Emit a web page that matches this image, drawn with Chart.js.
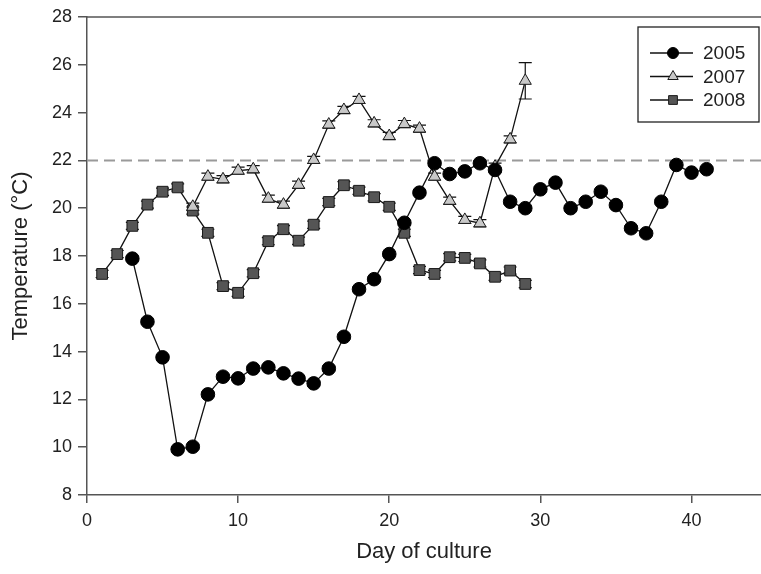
<!DOCTYPE html>
<html><head><meta charset="utf-8">
<script src="https://cdn.jsdelivr.net/npm/chart.js@4.4.0/dist/chart.umd.min.js"></script>
<style>html,body{margin:0;padding:0;background:#fff;overflow:hidden}canvas{display:block}</style>
</head><body><canvas id="c" width="761" height="574"></canvas>
<script>
const seriesLabels = ['2005', '2007', '2008'];
const days2005 = [3,4,5,6,7,8,9,10,11,12,13,14,15,16,17,18,19,20,21,22,23,24,25,26,27,28,29,30,31,32,33,34,35,36,37,38,39,40,41];
const temp2005 = [17.89,15.25,13.76,9.91,10.02,12.21,12.95,12.88,13.29,13.34,13.09,12.87,12.67,13.29,14.62,16.61,17.03,18.08,19.39,20.65,21.88,21.43,21.54,21.88,21.6,20.27,20.0,20.79,21.07,20.0,20.27,20.69,20.13,19.16,18.95,20.27,21.81,21.49,21.63];
const err2005 = [0.1,0.1,0.1,0.1,0.1,0.1,0.1,0.1,0.1,0.1,0.1,0.1,0.1,0.1,0.1,0.1,0.1,0.1,0.1,0.1,0.1,0.1,0.1,0.1,0.1,0.1,0.1,0.1,0.1,0.1,0.1,0.1,0.1,0.1,0.1,0.1,0.1,0.1,0.1];
const days2007 = [7,8,9,10,11,12,13,14,15,16,17,18,19,20,21,22,23,24,25,26,27,28,29];
const temp2007 = [20.06,21.32,21.21,21.57,21.63,20.4,20.15,20.98,22.02,23.5,24.11,24.53,23.55,23.02,23.52,23.33,21.32,20.31,19.51,19.37,21.74,22.88,25.33];
const err2007 = [0.15,0.15,0.15,0.15,0.15,0.15,0.15,0.15,0.15,0.15,0.15,0.15,0.15,0.15,0.15,0.15,0.15,0.15,0.15,0.15,0.15,0.15,0.76];
const days2008 = [1,2,3,4,5,6,7,8,9,10,11,12,13,14,15,16,17,18,19,20,21,22,23,24,25,26,27,28,29];
const temp2008 = [17.25,18.08,19.26,20.15,20.69,20.87,19.9,18.97,16.74,16.46,17.28,18.62,19.12,18.64,19.31,20.26,20.96,20.73,20.46,20.06,18.97,17.41,17.25,17.95,17.92,17.69,17.13,17.39,16.83];
const err2008 = [0.15,0.15,0.15,0.15,0.15,0.15,0.15,0.15,0.15,0.15,0.15,0.15,0.15,0.15,0.15,0.15,0.15,0.15,0.15,0.15,0.15,0.15,0.15,0.15,0.15,0.15,0.15,0.15,0.15];
const thresholdTemp = 22;
const xTicks = [0, 10, 20, 30, 40];
const yTicks = [8, 10, 12, 14, 16, 18, 20, 22, 24, 26, 28];
const xMax = 44.6;

const toPts = (d, v) => d.map((x, i) => ({x: x, y: v[i]}));
const FONT = "'Liberation Sans', Arial, sans-serif";
const AXIS = '#555';

const series = [
  {label: seriesLabels[0], data: toPts(days2005, temp2005), err: err2005, pointStyle: 'circle', radius: 6.8, bg: '#000', bc: '#000', lr: 5.5},
  {label: seriesLabels[1], data: toPts(days2007, temp2007), err: err2007, pointStyle: 'triangle', radius: 7, bg: '#c8c8c8', bc: '#1a1a1a', lr: 6},
  {label: seriesLabels[2], data: toPts(days2008, temp2008), err: err2008, pointStyle: 'rect', radius: 7.6, bg: '#555', bc: '#1a1a1a', lr: 6.2}
];

const datasets = series.map(s => ({
  label: s.label, data: s.data, errors: s.err, showLine: true,
  borderColor: '#111', borderWidth: 1.3,
  pointStyle: s.pointStyle, pointRadius: s.radius, pointBackgroundColor: s.bg,
  pointBorderColor: s.bc, pointBorderWidth: 1, legendRadius: s.lr
}));
datasets.push({
  label: 'threshold', isRef: true, data: [{x: 0, y: thresholdTemp}, {x: xMax, y: thresholdTemp}],
  showLine: true, borderColor: '#9a9a9a', borderWidth: 2, borderDash: [11, 6], pointRadius: 0
});

const errorBars = {
  id: 'errorBars',
  beforeDatasetsDraw(chart) {
    const ctx = chart.ctx, ys = chart.scales.y;
    ctx.save();
    ctx.strokeStyle = '#111'; ctx.lineWidth = 1.2;
    chart.data.datasets.forEach((ds, i) => {
      if (!ds.errors) return;
      const meta = chart.getDatasetMeta(i);
      meta.data.forEach((pt, j) => {
        const v = ds.data[j].y, e = ds.errors[j];
        const y1 = ys.getPixelForValue(v + e), y2 = ys.getPixelForValue(v - e);
        const cw = 6.5;
        ctx.beginPath();
        ctx.moveTo(pt.x, y1); ctx.lineTo(pt.x, y2);
        ctx.moveTo(pt.x - cw, y1); ctx.lineTo(pt.x + cw, y1);
        ctx.moveTo(pt.x - cw, y2); ctx.lineTo(pt.x + cw, y2);
        ctx.stroke();
      });
    });
    ctx.restore();
  }
};

const frameAndLegend = {
  id: 'frameAndLegend',
  afterDraw(chart) {
    const ctx = chart.ctx, a = chart.chartArea;
    ctx.save();
    ctx.strokeStyle = AXIS; ctx.lineWidth = 1.5;
    ctx.beginPath(); ctx.moveTo(a.left, a.top); ctx.lineTo(a.right, a.top); ctx.stroke();
    // legend box
    const bx = a.right - 123, by = a.top + 10, bw = 121, bh = 95;
    ctx.strokeStyle = '#222'; ctx.lineWidth = 1.3;
    ctx.fillStyle = '#fff';
    ctx.fillRect(bx, by, bw, bh);
    ctx.strokeRect(bx, by, bw, bh);
    const items = chart.data.datasets.filter(d => !d.isRef);
    ctx.font = '19px ' + FONT;
    ctx.textBaseline = 'middle';
    items.forEach((d, k) => {
      const ry = by + 26 + k * 23.5;
      ctx.strokeStyle = '#111'; ctx.lineWidth = 1.3;
      ctx.beginPath(); ctx.moveTo(bx + 12, ry); ctx.lineTo(bx + 55, ry); ctx.stroke();
      ctx.fillStyle = d.pointBackgroundColor; ctx.strokeStyle = d.pointBorderColor; ctx.lineWidth = 1;
      Chart.helpers.drawPoint(ctx, {pointStyle: d.pointStyle, radius: d.legendRadius, rotation: 0, borderWidth: 1}, bx + 35, ry);
      ctx.fillStyle = '#222';
      ctx.fillText(d.label, bx + 65, ry + 1);
    });
    ctx.restore();
  }
};

new Chart(document.getElementById('c'), {
  type: 'scatter',
  data: {datasets: datasets},
  options: {
    responsive: false, animation: false,
    layout: {autoPadding: false, padding: {top: 17, right: 0, left: 0, bottom: 0}},
    plugins: {legend: {display: false}, tooltip: {enabled: false}},
    scales: {
      x: {
        type: 'linear', min: 0, max: xMax,
        afterBuildTicks: s => { s.ticks = xTicks.map(v => ({value: v})); },
        afterFit: s => { s.height = 79; s.paddingRight = 0; s.paddingLeft = 0; },
        ticks: {font: {size: 18, family: FONT}, color: '#222', padding: 7},
        grid: {display: true, drawOnChartArea: false, drawTicks: true, tickLength: 8, color: AXIS, lineWidth: 1.5},
        border: {display: true, color: AXIS, width: 1.5},
        title: {display: true, text: 'Day of culture', font: {size: 22, family: FONT}, color: '#222', padding: {top: 0, bottom: 9}}
      },
      y: {
        type: 'linear', min: 8, max: 28,
        afterBuildTicks: s => { s.ticks = yTicks.map(v => ({value: v})); },
        afterFit: s => { s.width = 87; },
        ticks: {font: {size: 18, family: FONT}, color: '#222', padding: 6},
        grid: {display: true, drawOnChartArea: false, drawTicks: true, tickLength: 9, color: AXIS, lineWidth: 1.5},
        border: {display: true, color: AXIS, width: 1.5},
        title: {display: true, text: 'Temperature (°C)', font: {size: 22, family: FONT}, color: '#222', padding: {top: 8, bottom: 0}}
      }
    }
  },
  plugins: [errorBars, frameAndLegend]
});
</script></body></html>
